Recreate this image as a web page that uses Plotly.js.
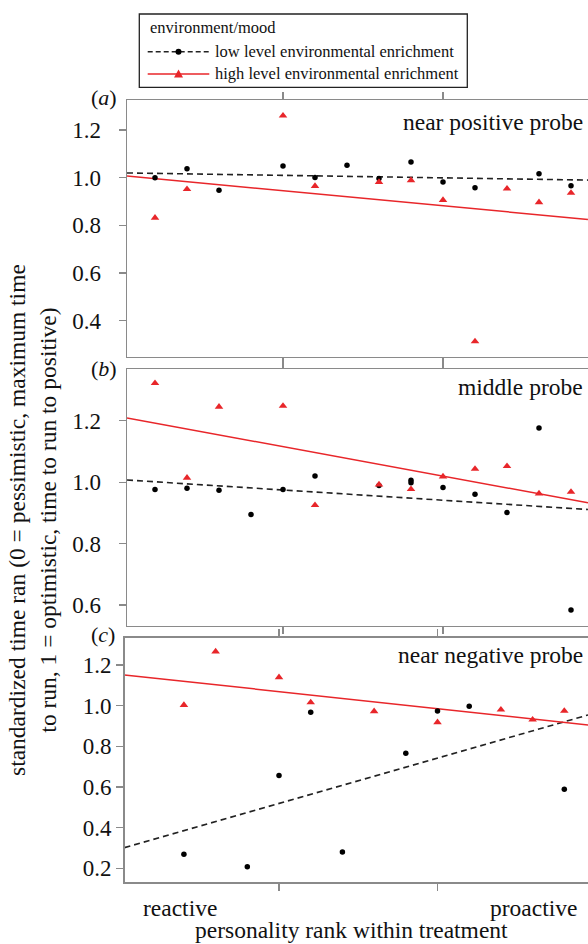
<!DOCTYPE html>
<html>
<head>
<meta charset="utf-8">
<script src="https://cdn.plot.ly/plotly-3.0.1.min.js"></script>
<style>
html,body{margin:0;padding:0;overflow:hidden;background:#fff;width:588px;height:944px;}
#chart{width:600px;height:944px;}
</style>
</head>
<body>
<div id="chart"></div>
<script>
// ---- data ----
const rankA_low  = [1,2,3,5,6,7,8,9,10,11,13,14];
const valA_low   = [1.000,1.038,0.947,1.049,1.001,1.052,0.997,1.066,0.982,0.958,1.017,0.966];
const rankA_high = [1,2,5,6,8,9,10,11,12,13,14];
const valA_high  = [0.832,0.952,1.260,0.965,0.982,0.989,0.906,0.313,0.954,0.897,0.936];

const rankB_low  = [1,2,3,4,5,6,8,9,9,10,11,12,13,14];
const valB_low   = [0.976,0.980,0.974,0.895,0.976,1.020,0.989,1.006,0.998,0.983,0.961,0.901,1.176,0.584];
const rankB_high = [1,2,3,5,6,8,9,10,11,12,13,14];
const valB_high  = [1.322,1.014,1.245,1.248,0.925,0.992,0.977,1.018,1.043,1.052,0.963,0.968];

const rankC_low  = [2,4,5,6,7,9,10,11,14];
const valC_low   = [0.269,0.208,0.656,0.967,0.280,0.766,0.974,0.997,0.589];
const rankC_high = [2,3,5,6,8,10,12,13,14];
const valC_high  = [1.003,1.266,1.139,1.016,0.972,0.918,0.980,0.931,0.974];

// fitted trend lines (end points)
const fitX_ab   = [0.125, 14.53];
const fitX_c    = [0.126, 14.75];
const fitA_low  = [1.020, 0.990];
const fitA_high = [1.007, 0.825];
const fitB_low  = [1.007, 0.911];
const fitB_high = [1.209, 0.933];
const fitC_low  = [0.302, 0.954];
const fitC_high = [1.151, 0.905];

const tickA = [0.4,0.6,0.8,1.0,1.2];
const tickB = [0.6,0.8,1.0,1.2];
const tickC = [0.2,0.4,0.6,0.8,1.0,1.2];
const xTicks = [5,10];

const panelNames = ['near positive probe','middle probe','near negative probe'];
const panelLetters = ['(<i>a</i>)','(<i>b</i>)','(<i>c</i>)'];
const seriesNames = ['low level environmental enrichment','high level environmental enrichment'];
const legendTitle = 'environment/mood';
const xEndLabels = ['reactive','proactive'];
const xTitle = 'personality rank within treatment';
const yTitle = 'standardized time ran (0 = pessimistic, maximum time<br>to run, 1 = optimistic, time to run to positive)';

// ---- styling ----
const FONT = '"Liberation Serif", "Times New Roman", serif';
const RED = '#e8262a';
const BLACK = '#000000';
const GREY = '#8a8a8a';
const ML = 124, MR = 10, MT = 100, MB = 62, W = 600, H = 944;
const PW = W - ML - MR, PH = H - MT - MB;
const px2x = p => (p - ML) / PW;
const py2y = p => (H - MB - p) / PH;

function pts(x, y, xa, ya, low) {
  return {
    type:'scatter', mode:'markers', x:x, y:y, xaxis:xa, yaxis:ya, showlegend:false,
    marker: low ? {symbol:'circle', size:5.5, color:BLACK}
                : {symbol:'triangle-up', size:7.5, color:RED},
    cliponaxis:false, hoverinfo:'x+y'
  };
}
function fit(x, y, xa, ya, low) {
  return {
    type:'scatter', mode:'lines', x:x, y:y, xaxis:xa, yaxis:ya, showlegend:false,
    line: low ? {color:'#222', width:1.6, dash:'6px,4px'} : {color:RED, width:1.5},
    hoverinfo:'skip'
  };
}

const data = [
  fit(fitX_ab,fitA_low,'x','y',true), fit(fitX_ab,fitA_high,'x','y',false),
  pts(rankA_low,valA_low,'x','y',true), pts(rankA_high,valA_high,'x','y',false),
  fit(fitX_ab,fitB_low,'x2','y2',true), fit(fitX_ab,fitB_high,'x2','y2',false),
  pts(rankB_low,valB_low,'x2','y2',true), pts(rankB_high,valB_high,'x2','y2',false),
  fit(fitX_c,fitC_low,'x3','y3',true), fit(fitX_c,fitC_high,'x3','y3',false),
  pts(rankC_low,valC_low,'x3','y3',true), pts(rankC_high,valC_high,'x3','y3',false)
];

// panels a,b: left edge 127px, 32 px per rank; panel c: left edge 124.5px, 31.7 px per rank
const domAB = [px2x(127), 1];
const domC  = [px2x(124.5), 1];
const rangeAB = [0.125, 0.125 + (W - MR - 127) / 32];
const rangeC  = [0.126, 0.126 + (W - MR - 124.5) / 31.7];
function xax(anchor, dom, rng) {
  return {
    anchor:anchor, domain:dom, range:rng, tickvals:xTicks, showticklabels:false,
    ticks:'outside', ticklen:7, tickcolor:GREY, tickwidth:1.3,
    showline:true, linecolor:GREY, linewidth:1.5, mirror:'ticks',
    showgrid:false, zeroline:false, fixedrange:true
  };
}
function yax(anchor, dom, rng, tv, standoff) {
  return {
    anchor:anchor, domain:dom, range:rng, tickvals:tv, tickformat:'.1f',
    ticks:'outside', ticklen:7, tickcolor:GREY, tickwidth:1.3,
    showline:true, linecolor:GREY, linewidth:1.5, mirror:true,
    showgrid:false, zeroline:false, ticklabelstandoff:standoff,
    tickfont:{family:FONT, size:23, color:'#111'}, fixedrange:true
  };
}

const annotations = [];
function ann(text, xpx, ypx, size, xanchor, extra) {
  annotations.push(Object.assign({
    text:text, xref:'paper', yref:'paper', x:px2x(xpx), y:py2y(ypx),
    xanchor:xanchor, yanchor:'middle', showarrow:false,
    font:{family:FONT, size:size, color:'#111'}
  }, extra || {}));
}
ann(panelNames[0], 585, 122, 23.5, 'right');
ann(panelNames[1], 585, 387, 23.5, 'right');
ann(panelNames[2], 585, 655, 23.5, 'right');
ann(panelLetters[0], 104, 97, 22, 'center');
ann(panelLetters[1], 104, 368, 22, 'center');
ann(panelLetters[2], 103, 634, 22, 'center');
ann(xEndLabels[0], 180, 908, 23.5, 'center');
ann(xEndLabels[1], 533, 908, 23.5, 'center');
ann(xTitle, 351, 930, 23.5, 'center');
ann(yTitle, 32, 520, 23.5, 'center', {textangle:-90});
// legend texts
ann(legendTitle, 147.7, 27.7, 16.5, 'left');
ann(seriesNames[0], 213.3, 51.7, 16.5, 'left');
ann(seriesNames[1], 213.3, 74, 16.5, 'left');

// legend box and samples
const shapes = [
  {type:'rect', xref:'paper', yref:'paper', x0:px2x(139.3), x1:px2x(467.3), y0:py2y(87.3), y1:py2y(14),
   line:{color:'#222', width:1.3}, fillcolor:'rgba(0,0,0,0)'},
  {type:'line', xref:'paper', yref:'paper', x0:px2x(147.7), x1:px2x(209.3), y0:py2y(51.7), y1:py2y(51.7),
   line:{color:'#222', width:1.6, dash:'5px,3px'}},
  {type:'circle', xref:'paper', yref:'paper', x0:px2x(175.5), x1:px2x(181.5), y0:py2y(54.7), y1:py2y(48.7),
   line:{color:BLACK, width:0}, fillcolor:BLACK},
  {type:'line', xref:'paper', yref:'paper', x0:px2x(147.7), x1:px2x(209.3), y0:py2y(74), y1:py2y(74),
   line:{color:RED, width:1.5}},
  {type:'path', xref:'paper', yref:'paper',
   path:'M'+px2x(174)+','+py2y(77.5)+' L'+px2x(183)+','+py2y(77.5)+' L'+px2x(178.5)+','+py2y(69.5)+' Z',
   line:{color:RED, width:0}, fillcolor:RED}
];

const layout = {
  width:W, height:H, margin:{l:ML, r:MR, t:MT, b:MB, pad:0},
  paper_bgcolor:'#fff', plot_bgcolor:'#fff', showlegend:false,
  font:{family:FONT, color:'#111'},
  xaxis: xax('y', domAB, rangeAB), xaxis2: xax('y2', domAB, rangeAB), xaxis3: xax('y3', domC, rangeC),
  yaxis: yax('x', [0.6714,1], [0.248,1.326], tickA, 13),
  yaxis2: yax('x2', [0.3277,0.6556], [0.533,1.367], tickB, 13),
  yaxis3: yax('x3', [0,0.3124], [0.133,1.334], tickC, 10.5),
  annotations:annotations, shapes:shapes
};

Plotly.newPlot('chart', data, layout, {displayModeBar:false, staticPlot:true});
</script>
</body>
</html>
